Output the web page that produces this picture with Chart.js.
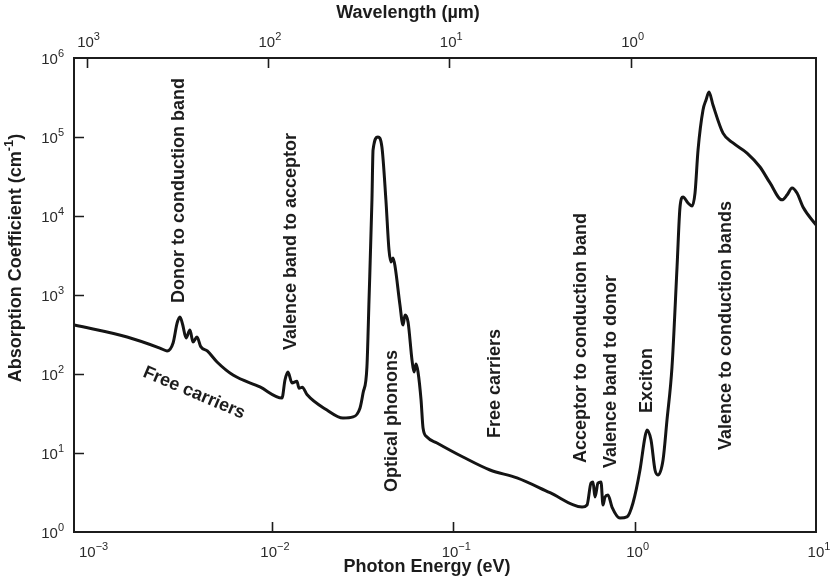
<!DOCTYPE html>
<html>
<head>
<meta charset="utf-8">
<title>Absorption coefficient vs photon energy</title>
<script src="https://cdn.jsdelivr.net/npm/chart.js@4/dist/chart.umd.min.js"></script>
<style>
    html, body { margin: 0; padding: 0; background: #fff; }
    #wrap { width: 833px; height: 580px; }
</style>
</head>
<body>
<div id="wrap"><canvas id="absorption-chart" width="833" height="580"></canvas></div>
<script>
// Curve: photon energy (eV) and absorption coefficient (cm^-1)
const photonEnergy = [
    8.13e-4, 1.59e-3, 2.41e-3, 2.64e-3, 2.85e-3, 3.00e-3, 3.11e-3, 3.22e-3, 3.36e-3, 3.53e-3,
    3.67e-3, 3.86e-3, 4.05e-3, 4.40e-3, 4.98e-3, 6.10e-3, 8.59e-3, 1.136e-2, 1.18e-2, 1.226e-2,
    1.29e-2, 1.374e-2, 1.41e-2, 1.47e-2, 1.56e-2, 2.01e-2, 2.465e-2, 2.80e-2, 3.06e-2, 3.18e-2,
    3.34e-2, 3.43e-2, 3.56e-2, 3.61e-2, 3.84e-2, 4.04e-2, 4.25e-2, 4.42e-2, 4.53e-2, 4.65e-2,
    4.77e-2, 5.08e-2, 5.28e-2, 5.42e-2, 5.63e-2, 5.92e-2, 6.07e-2, 6.23e-2, 6.39e-2, 6.64e-2,
    6.81e-2, 7.16e-2, 8.13e-2, 0.1131, 0.1594, 0.2245, 0.3415, 0.5126, 0.5462, 0.5744,
    0.5893, 0.6045, 0.6279, 0.6523, 0.669, 0.686, 0.713, 0.750, 0.830, 0.907,
    0.979, 1.070, 1.140, 1.170, 1.231, 1.295, 1.345, 1.434, 1.508, 1.607,
    1.713, 1.779, 1.848, 1.969, 2.072, 2.152, 2.236, 2.382, 2.475, 2.570,
    2.704, 3.070, 3.486, 4.165, 4.912, 5.578, 6.496, 6.921, 7.375, 7.858,
    8.477, 10,
];
const absorption = [
    417, 294, 213, 196, 247, 442, 527, 420, 286, 361,
    254, 294, 222, 196, 142, 97, 68.5, 49.7, 84, 106,
    77, 81, 66, 68, 55, 35, 27.7, 28.6, 37.1, 57.5,
    123, 864, 15950, 68400, 100000, 74700, 15950, 3715, 2617, 2940,
    2330, 747, 417, 558, 455, 150, 106, 134, 106, 46.9,
    20.7, 15.9, 13.4, 8.9, 6.09, 4.83, 3.14, 2.07, 2.20, 4.17,
    4.30, 2.77, 4.17, 4.30, 2.20, 2.77, 2.94, 2.07, 1.50, 1.55,
    2.33, 6.09, 15.9, 19.6, 14.6, 6.09, 5.27, 8.15, 26.2, 123,
    2262, 13000, 17400, 14600, 13400, 19500, 68400, 220000, 294000, 371000,
    254000, 112000, 84000, 62700, 41700, 26200, 16000, 18400, 22600, 19500,
    13000, 7700,
];

// Axis ranges and tick labels
const energyMin = 8.1e-4;
const energyMax = 10;
const energyTicks = [1e-3, 1e-2, 1e-1, 1, 10];
const energyTickExps = ['\u22123', '\u22122', '\u22121', '0', '1'];
const absorptionTicks = [1, 10, 100, 1e3, 1e4, 1e5, 1e6];
const absorptionTickExps = ['0', '1', '2', '3', '4', '5', '6'];
const wavelengthTicks = [1000, 100, 10, 1];          // µm
const wavelengthTickExps = ['3', '2', '1', '0'];
const hcEvUm = 0.95;                                  // top scale placement as printed

// Text annotations anchored in data space: [text, energy, alpha, angle]
const annotations = [
    ['Donor to conduction band', 3.07e-3, 792, -90],
    ['Valence band to acceptor', 1.27e-2, 201, -90],
    ['Optical phonons', 4.59e-2, 3.2, -90],
    ['Free carriers', 0.170, 15.5, -90],
    ['Acceptor to conduction band', 0.506, 7.47, -90],
    ['Valence band to donor', 0.740, 6.46, -90],
    ['Exciton', 1.17, 32, -90],
    ['Valence to conduction bands', 3.19, 10.9, -90],
    ['Free carriers', 3.72e-3, 57.4, 23],
];

const FONT = '"Liberation Sans", Arial, Helvetica, sans-serif';
const INK = '#1c1c1c';

function drawRich(ctx, parts, x, y, align, size, bold) {
    const supSize = Math.round(size * 0.7);
    const weight = bold ? 'bold ' : '';
    let total = 0;
    const widths = parts.map(p => {
        ctx.font = `${weight}${p.sup ? supSize : size}px ${FONT}`;
        const w = ctx.measureText(p.text).width;
        total += w;
        return w;
    });
    let cx = align === 'center' ? x - total / 2 : align === 'right' ? x - total : x;
    ctx.textAlign = 'left';
    ctx.textBaseline = 'middle';
    parts.forEach((p, i) => {
        ctx.font = `${weight}${p.sup ? supSize : size}px ${FONT}`;
        ctx.fillText(p.text, cx, p.sup ? y - size * 0.38 : y);
        cx += widths[i];
    });
}

const pow10 = exp => [{ text: '10' }, { text: exp, sup: true }];

const figurePlugin = {
    id: 'figure',
    afterDraw(chart) {
        const { ctx, chartArea: a, scales: { x, y } } = chart;
        ctx.save();
        ctx.strokeStyle = INK;
        ctx.fillStyle = INK;

        // frame
        ctx.lineWidth = 2;
        ctx.strokeRect(a.left, a.top, a.right - a.left, a.bottom - a.top);

        // inward tick marks
        ctx.lineWidth = 1.6;
        ctx.beginPath();
        absorptionTicks.slice(1, -1).forEach(v => {
            const py = Math.round(y.getPixelForValue(v)) + 0.5;
            ctx.moveTo(a.left, py);
            ctx.lineTo(a.left + 10, py);
        });
        energyTicks.slice(1, -1).forEach(v => {
            const px = Math.round(x.getPixelForValue(v)) + 0.5;
            ctx.moveTo(px, a.bottom);
            ctx.lineTo(px, a.bottom - 10);
        });
        wavelengthTicks.forEach(um => {
            const px = Math.round(x.getPixelForValue(hcEvUm / um)) + 0.5;
            ctx.moveTo(px, a.top);
            ctx.lineTo(px, a.top + 10);
        });
        ctx.stroke();

        // tick labels
        ctx.fillStyle = '#2a2a2a';
        absorptionTicks.forEach((v, i) => {
            drawRich(ctx, pow10(absorptionTickExps[i]), a.left - 10, y.getPixelForValue(v) + 2, 'right', 15, false);
        });
        energyTicks.forEach((v, i) => {
            drawRich(ctx, pow10(energyTickExps[i]), x.getPixelForValue(v) + 3, a.bottom + 21, 'center', 15, false);
        });
        wavelengthTicks.forEach((um, i) => {
            drawRich(ctx, pow10(wavelengthTickExps[i]), x.getPixelForValue(hcEvUm / um) + 2, a.top - 15, 'center', 15, false);
        });

        // axis titles
        ctx.fillStyle = INK;
        drawRich(ctx, [{ text: 'Wavelength (\u00b5m)' }], 408, 13, 'center', 18, true);
        drawRich(ctx, [{ text: 'Photon Energy (eV)' }], 427, 567, 'center', 18, true);
        ctx.save();
        ctx.translate(16, 258);
        ctx.rotate(-Math.PI / 2);
        drawRich(ctx, [{ text: 'Absorption Coefficient (cm' }, { text: '-1', sup: true }, { text: ')' }], 0, 0, 'center', 18, true);
        ctx.restore();

        // curve annotations
        annotations.forEach(([text, e, alpha, angle]) => {
            ctx.save();
            ctx.translate(x.getPixelForValue(e), y.getPixelForValue(alpha));
            ctx.rotate(angle * Math.PI / 180);
            ctx.font = `bold 18px ${FONT}`;
            ctx.textBaseline = 'middle';
            ctx.textAlign = angle === -90 ? 'left' : 'center';
            ctx.fillText(text, 0, 0);
            ctx.restore();
        });
        ctx.restore();
    },
};

new Chart(document.getElementById('absorption-chart').getContext('2d'), {
    type: 'line',
    data: {
        datasets: [{
            data: photonEnergy.map((e, i) => ({ x: e, y: absorption[i] })),
            borderColor: '#141414',
            borderWidth: 3,
            pointRadius: 0,
            cubicInterpolationMode: 'monotone',
            fill: false,
        }],
    },
    options: {
        responsive: false,
        animation: false,
        events: [],
        layout: { padding: { left: 0, right: 17, top: 58, bottom: 0 } },
        plugins: {
            legend: { display: false },
            tooltip: { enabled: false },
        },
        scales: {
            x: {
                type: 'logarithmic',
                min: energyMin,
                max: energyMax,
                ticks: { display: false },
                grid: { display: false },
                border: { display: false },
                afterFit: scale => { scale.height = 48; },
            },
            y: {
                type: 'logarithmic',
                min: 1,
                max: 1e6,
                ticks: { display: false },
                grid: { display: false },
                border: { display: false },
                afterFit: scale => { scale.width = 74; },
            },
        },
    },
    plugins: [figurePlugin],
});
</script>
</body>
</html>
